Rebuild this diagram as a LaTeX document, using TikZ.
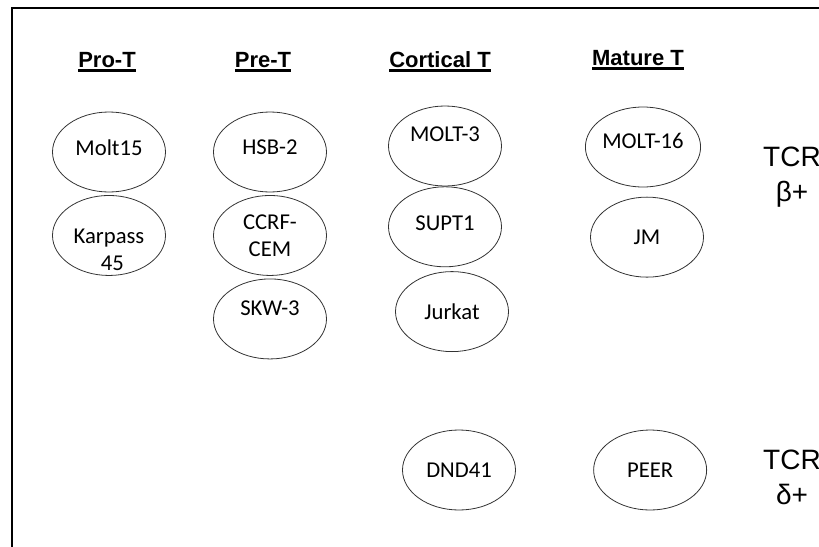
\documentclass[tikz,border=0pt]{standalone}
\usepackage{fontspec}
\setmainfont{Carlito}
\newfontfamily\arialfont{Liberation Sans}
\usetikzlibrary{shapes.geometric, positioning}

\newcommand{\stageul}[1]{\setbox0\hbox{#1}\rlap{\vrule height -1.5pt depth 3.5pt width \wd0}\box0}

\begin{document}
\begin{tikzpicture}[
        x=0.75pt, y=-0.75pt,
        node distance=2pt,
        cell/.style={ellipse, draw=black!80, line width=0.6pt, minimum width=84.75pt, minimum height=60pt, inner sep=0pt, align=center, font=\fontsize{17}{20.25}\selectfont},
        lift/.style={text depth=#1},
        stage/.style={anchor=base, inner sep=0pt, font=\arialfont\bfseries\fontsize{16.5}{20}\selectfont},
        tcr/.style={anchor=north, inner sep=0pt, align=center, font=\arialfont\fontsize{21}{26.25}\selectfont}
    ]
        \useasboundingbox (0,0) rectangle (819,547);
        \draw[line width=1.5pt] (12,8) rectangle (840,570);

        \node[stage] (prot) at (107,67) {\stageul{Pro-T}};
        \node[stage] (pret) at (263,67) {\stageul{Pre-T}};
        \node[stage] (cortt) at (440,67) {\stageul{Cortical T}};
        \node[stage] (matt) at (638,65) {\stageul{Mature T}};

        \node[cell, lift=6pt] (molt15) at (109,152) {Molt15};
        \node[cell, below=of molt15, text height=52pt, text depth=0pt, inner ysep=-12pt] (karpass) {Karpass\\\hspace*{5pt}45};

        \node[cell, lift=6.75pt] (hsb2) at (270,152) {HSB-2};
        \node[cell, below=of hsb2] (ccrf) {CCRF-\\CEM};
        \node[cell, below=of ccrf, lift=15.75pt] (skw3) {SKW-3};

        \node[cell, lift=18pt] (molt3) at (445,146) {MOLT-3};
        \node[cell, below=0pt of molt3, lift=5.25pt] (supt1) {SUPT1};
        \node[cell, below=3pt of supt1, xshift=5.25pt] (jurkat) {Jurkat};

        \node[cell, lift=9.75pt] (molt16) at (643,147) {MOLT-16};
        \node[cell, below=7pt of molt16, xshift=3pt] (jm) {JM};

        \node[cell] (dnd41) at (459,470) {DND41};
        \node[cell, right=58pt of dnd41] (peer) {PEER};

        \node[tcr] (tcrb) at (792,147) {TCR\\β+};
        \node[tcr] (tcrd) at (792,450) {TCR\\δ+};
    \end{tikzpicture}
\end{document}
